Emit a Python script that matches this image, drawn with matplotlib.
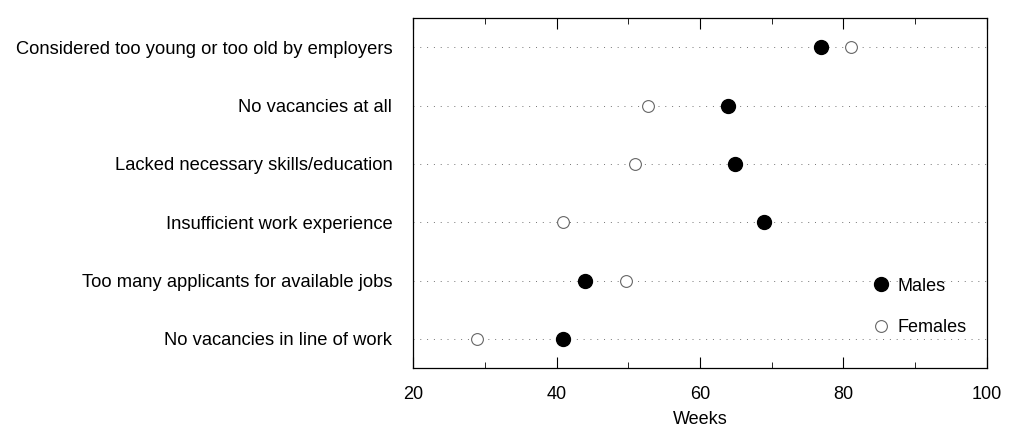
import matplotlib.pyplot as plt
from matplotlib.ticker import MultipleLocator

plt.rcParams['font.family'] = ['Liberation Sans', 'DejaVu Sans']

# reasons, top to bottom
reasons = [
    'Considered too young or too old by employers',
    'No vacancies at all',
    'Lacked necessary skills/education',
    'Insufficient work experience',
    'Too many applicants for available jobs',
    'No vacancies in line of work',
]
males = [76.9, 63.9, 64.9, 68.9, 44.0, 40.9]
females = [81.0, 52.8, 50.9, 40.9, 49.7, 28.9]

rows = list(range(len(reasons), 0, -1))

fig = plt.figure(figsize=(10.1, 4.28), dpi=100)
ax = fig.add_axes([0.409, 0.14, 0.568, 0.818])

# faint dotted guide lines for each row
for r in rows:
    ax.axhline(r, color='black', lw=0.7, ls=(0, (1, 6)), alpha=0.55, zorder=1)

ax.plot(males, rows, 'o', color='black', markersize=10, ls='none',
        label='Males', zorder=3)
ax.plot(females, rows, 'o', mfc='white', mec='#666666', mew=0.8,
        markersize=8.5, ls='none', label='Females', zorder=3)

ax.set_xlim(20, 100)
ax.set_ylim(0.5, 6.5)
ax.set_yticks(rows)
ax.set_yticklabels(reasons, fontsize=13.2)
ax.tick_params(axis='y', length=0, pad=15)

ax.xaxis.set_major_locator(MultipleLocator(20))
ax.xaxis.set_minor_locator(MultipleLocator(10))
ax.tick_params(axis='x', which='both', direction='in', top=True,
               labelsize=13, pad=13)
ax.tick_params(axis='x', which='major', length=8)
ax.tick_params(axis='x', which='minor', length=4)
ax.set_xlabel('Weeks', fontsize=13, labelpad=6)

for s in ax.spines.values():
    s.set_linewidth(0.9)

ax.legend(loc='center left', bbox_to_anchor=(0.788, 0.175), frameon=False,
          fontsize=13, handletextpad=0.4, labelspacing=1.35,
          handlelength=1.0, borderaxespad=0)

fig.savefig('out.png', dpi=100)
